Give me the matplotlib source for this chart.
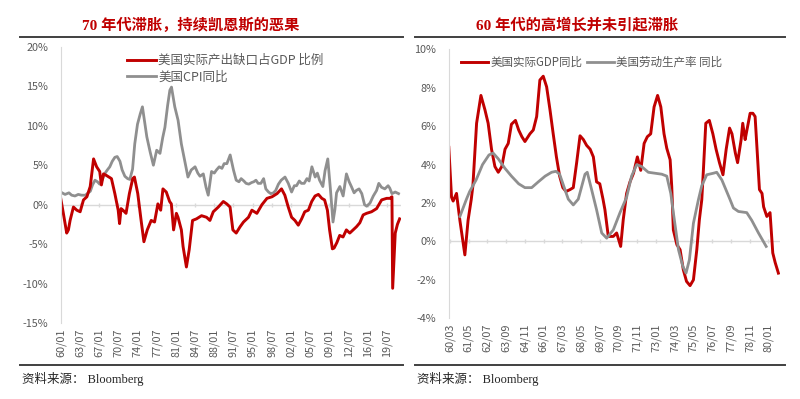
import matplotlib
matplotlib.use("Agg")
import matplotlib.pyplot as plt
from matplotlib.lines import Line2D
import numpy as np

plt.rcParams['font.family'] = ['Noto Sans CJK SC', 'DejaVu Sans']

# left chart: years after 1960, values in %
cpi_t = [0.0, 0.5, 0.8, 1.5, 2.0, 2.6, 3.2, 3.8, 4.5, 5.0,
         5.4, 5.8, 6.25, 6.7, 7.1, 7.6, 8.0, 8.5, 8.95, 9.4,
         9.87, 10.3, 10.8, 11.2, 11.7, 12.2, 12.6, 13.1, 13.5, 14.0,
         14.5, 14.9, 15.3, 15.7, 16.3, 16.9, 17.5, 18.1, 18.6, 19.0,
         19.5, 19.9, 20.2, 20.8, 21.4, 22.0, 22.6, 23.2, 23.8, 24.5,
         25.0, 25.4, 26.0, 26.5, 26.9, 27.5, 28.0, 28.4, 28.9, 29.4,
         29.8, 30.3, 30.9, 31.5, 32.0, 32.5, 32.9, 33.4, 33.8, 34.3,
         34.8, 35.2, 35.6, 36.0, 36.5, 37.0, 37.4, 37.9, 38.3, 38.8,
         39.2, 39.7, 40.2, 40.9, 41.5, 42.1, 42.6, 43.0, 43.5, 43.9,
         44.4, 44.9, 45.3, 45.8, 46.4, 46.8, 47.2, 47.8, 48.2, 48.7,
         49.2, 49.65, 50.0, 50.3, 50.9, 51.5, 52.1, 52.6, 53.0, 53.5,
         53.9, 54.4, 54.9, 55.4, 55.8, 56.4, 57.0, 57.6, 58.0, 58.5,
         59.1, 59.7, 60.0, 60.4, 61.0, 61.6]
cpi_v = [1.6, 1.4, 1.3, 1.5, 1.2, 1.1, 1.3, 1.2, 1.2, 1.5,
         1.7, 2.5, 3.1, 2.9, 2.6, 3.2, 3.9, 4.4, 4.8, 5.5,
         6.0, 6.1, 5.5, 4.4, 3.6, 3.3, 3.2, 4.5, 7.7, 10.2,
         11.5, 12.4, 10.5, 8.6, 6.7, 5.0, 6.9, 6.5, 8.5, 9.8,
         12.6, 14.5, 14.9, 12.4, 10.7, 7.7, 5.6, 3.5, 4.4, 4.8,
         4.0, 3.6, 3.9, 2.2, 1.2, 4.2, 4.0, 4.4, 4.8, 4.6,
         5.2, 5.2, 6.3, 4.4, 3.1, 2.9, 3.3, 3.0, 2.7, 2.6,
         2.8, 2.9, 3.1, 2.7, 2.7, 3.3, 2.0, 1.6, 1.4, 1.5,
         1.8, 2.6, 3.1, 3.5, 2.7, 1.6, 2.4, 2.4, 3.0, 2.7,
         2.7, 3.3, 3.0, 4.8, 3.5, 4.0, 3.1, 2.3, 4.3, 5.8,
         1.8, -2.2, -0.6, 1.5, 2.3, 1.1, 3.9, 2.9, 2.3, 1.5,
         1.8, 2.0, 1.4, 0.0, -0.2, 0.2, 1.1, 1.8, 2.7, 2.2,
         2.0, 2.4, 2.1, 1.4, 1.6, 1.4]

gap_t = [0.0, 0.48, 1.09, 1.4, 1.71, 2.32, 2.93, 3.54, 4.15, 4.77,
         5.38, 5.99, 6.55, 7.11, 7.42, 7.8, 8.34, 9.25, 9.87, 10.48,
         10.73, 11.0, 11.35, 11.91, 12.52, 13.13, 13.44, 14.05, 14.66, 15.17,
         15.78, 16.5, 17.11, 17.72, 18.23, 18.64, 19.25, 19.86, 20.17, 20.58,
         21.09, 21.39, 22.0, 22.31, 22.92, 23.43, 24.04, 24.76, 25.68, 26.59,
         27.21, 27.82, 28.74, 29.65, 30.27, 30.88, 31.39, 32.0, 32.71, 33.33,
         34.24, 34.86, 35.77, 36.69, 37.61, 38.53, 39.45, 40.26, 40.87, 41.49,
         42.1, 42.71, 43.32, 43.93, 44.5, 45.16, 45.77, 46.38, 46.99, 47.61,
         48.12, 48.63, 49.03, 49.54, 49.85, 50.36, 50.87, 51.48, 52.09, 52.71,
         53.32, 53.93, 54.54, 55.15, 55.77, 56.68, 57.6, 58.52, 59.44, 60.05,
         60.4, 60.53, 61.0, 61.4, 61.8]
gap_v = [0.8, -1.1, -3.6, -3.2, -2.0, -0.3, -0.7, -0.9, 0.6, 1.0,
         2.3, 5.8, 4.8, 4.2, 2.5, 3.9, 3.7, 3.3, 1.4, -0.7,
         -2.4, -0.5, -0.7, -1.1, 1.4, 3.3, 3.5, 1.4, -2.0, -4.7,
         -3.2, -2.0, -2.2, 0.1, -0.7, 2.0, 1.6, 0.4, 0.1, -3.2,
         -1.1, -1.6, -3.2, -5.3, -7.9, -5.7, -2.0, -1.8, -1.4, -1.6,
         -2.0, -0.9, -0.3, 0.4, 0.1, -0.3, -3.2, -3.6, -2.8, -2.2,
         -1.6, -0.7, -1.1, 0.0, 0.8, 1.0, 1.4, 2.0, 1.2, -0.3,
         -1.6, -2.0, -2.6, -1.8, -0.9, -0.7, 0.4, 1.1, 1.3, 0.8,
         0.6, -0.7, -3.2, -5.6, -5.5, -4.8, -3.9, -4.1, -3.2, -3.6,
         -3.2, -2.8, -2.3, -1.3, -1.1, -0.9, -0.5, 0.6, 0.8, 0.8,
         1.0, -10.6, -3.6, -2.5, -1.8]

# right chart: decimal years, values in %
gdp_t = [1960.1, 1960.27, 1960.37, 1960.58, 1960.79,
         1961.1, 1961.3, 1961.5, 1961.6, 1961.83,
         1962.1, 1962.35, 1962.55, 1962.76, 1962.97,
         1963.18, 1963.4, 1963.6, 1963.8, 1964.0,
         1964.25, 1964.45, 1964.65, 1964.84, 1965.15,
         1965.36, 1965.57, 1965.77, 1965.98, 1966.19,
         1966.4, 1966.6, 1966.8, 1967.0, 1967.2,
         1967.4, 1967.65, 1967.85, 1968.06, 1968.27,
         1968.48, 1968.68, 1968.9, 1969.1, 1969.3,
         1969.5, 1969.7, 1969.82, 1970.03, 1970.34,
         1970.55, 1970.8, 1970.96, 1971.17, 1971.38,
         1971.6, 1971.84, 1972.05, 1972.26, 1972.46,
         1972.67, 1972.88, 1973.1, 1973.3, 1973.5,
         1973.67, 1973.88, 1973.98, 1974.08, 1974.3,
         1974.5, 1974.7, 1974.9, 1975.12, 1975.33,
         1975.54, 1975.7, 1975.85, 1975.95, 1976.1,
         1976.32, 1976.54, 1976.74, 1976.95, 1977.17,
         1977.37, 1977.58, 1977.73, 1977.94, 1978.08,
         1978.3, 1978.4, 1978.55, 1978.65, 1978.86,
         1979.03, 1979.17, 1979.32, 1979.44, 1979.6,
         1979.7, 1979.9, 1980.1, 1980.27, 1980.42,
         1980.62]
gdp_v = [4.9, 2.3, 2.1, 2.5, 1.1,
         -0.7, 1.1, 2.2, 2.9, 6.15,
         7.6, 6.85, 6.15, 4.8, 3.9,
         3.6, 3.9, 4.8, 5.1, 6.1,
         6.3, 5.8, 5.45, 5.2, 5.6,
         5.8, 6.5, 8.4, 8.6, 8.05,
         6.85, 5.6, 4.4, 3.4, 2.8,
         2.6, 2.7, 2.8, 4.1, 5.5,
         5.3, 5.0, 4.8, 4.4, 3.1,
         3.0, 2.2, 1.65, 0.26, 0.26,
         0.44, -0.26, 1.13, 2.5, 3.1,
         3.55, 4.4, 3.7, 5.1, 5.45,
         5.6, 7.0, 7.6, 7.0, 5.6,
         4.85, 4.25, 2.85, 0.6, -0.17,
         -0.43, -1.47, -2.08, -2.3, -2.0,
         -0.43, 1.13, 2.17, 3.7, 6.15,
         6.3, 5.6, 4.8, 4.1, 3.47,
         4.8, 5.9, 5.6, 4.6, 4.1,
         5.3, 6.15, 5.3, 5.75, 6.67,
         6.67, 6.5, 4.4, 2.7, 2.5,
         1.8, 1.3, 1.5, -0.6, -1.1,
         -1.65]

prod_t = [1960.79, 1961.2, 1961.4, 1961.8, 1962.2, 1962.6, 1962.86, 1963.18, 1963.6, 1964.0,
          1964.45, 1964.84, 1965.26, 1965.67, 1966.1, 1966.5, 1966.77, 1967.0, 1967.33, 1967.54,
          1967.85, 1968.16, 1968.37, 1968.58, 1968.72, 1968.99, 1969.3, 1969.62, 1969.93, 1970.34,
          1970.76, 1971.17, 1971.48, 1971.8, 1972.1, 1972.52, 1972.94, 1973.36, 1973.67, 1973.92,
          1974.08, 1974.4, 1974.67, 1974.87, 1975.08, 1975.33, 1975.64, 1975.85, 1976.16, 1976.57,
          1976.78, 1977.1, 1977.4, 1977.6, 1977.82, 1978.13, 1978.65, 1978.96, 1979.38, 1979.86]
prod_v = [1.3, 2.2, 2.6, 3.2, 4.0, 4.5, 4.6, 4.3, 3.8, 3.4,
          3.0, 2.8, 2.8, 3.1, 3.4, 3.6, 3.65, 3.5, 2.7, 2.2,
          1.9, 2.2, 2.85, 3.5, 3.6, 2.7, 1.65, 0.44, 0.17, 0.6,
          1.5, 2.3, 3.4, 4.0, 3.9, 3.6, 3.55, 3.5, 3.4, 2.5,
          1.5, -0.43, -1.3, -1.65, -0.95, 0.95, 2.17, 2.9, 3.47, 3.55,
          3.6, 3.2, 2.6, 2.2, 1.74, 1.56, 1.5, 1.1, 0.44, -0.26]

left_title = "70 年代滞胀，持续凯恩斯的恶果"
right_title = "60 年代的高增长并未引起滞胀"
source = "资料来源： Bloomberg"

RED = '#C00000'
GREY = '#8F8F8F'
AX = '#D9D9D9'
TXT = '#595959'

fig = plt.figure(figsize=(8, 3.99), dpi=100)


def style(ax):
    for s in ['top', 'right', 'bottom']:
        ax.spines[s].set_visible(False)
    ax.spines['left'].set_color(AX)
    ax.axhline(0, color=AX, lw=1, zorder=0)
    ax.tick_params(axis='y', length=0, pad=9, labelsize=7.8, labelcolor=TXT)
    ax.tick_params(axis='x', length=0, pad=4, labelsize=7.8, labelcolor=TXT,
                   labelrotation=90)
    ax.yaxis.set_major_formatter(matplotlib.ticker.FuncFormatter(lambda v, p: '%d%%' % v))


# ---- left
axL = fig.add_axes([0.0759, 0.1905, 0.425, 0.692])
style(axL)
axL.plot(1960 + np.array(cpi_t), cpi_v, color=GREY, lw=2.0, label='美国CPI同比')
axL.plot(1960 + np.array(gap_t), gap_v, color=RED, lw=2.1, label='美国实际产出缺口占GDP 比例')
axL.set_xlim(1960, 2022)
axL.set_ylim(-15, 20)
axL.set_yticks(range(-15, 21, 5))
mL = np.arange(0, 18) * 42
axL.set_xticks(1960 + mL / 12)
axL.set_xticklabels(['%02d/%02d' % ((1960 + m // 12) % 100, m % 12 + 1) for m in mL])
axL.plot(1960 + mL / 12, np.zeros(len(mL)), '|', color=AX, ms=3, zorder=0)
h, l = axL.get_legend_handles_labels()
axL.legend(h[::-1], l[::-1], loc='upper left', bbox_to_anchor=(127 / 800, 1 - 54 / 399),
           bbox_transform=fig.transFigure, frameon=False, borderpad=0, borderaxespad=0,
           handlelength=2.3, handletextpad=0.2, labelspacing=0.3, fontsize=9,
           labelcolor=TXT)

# ---- right
axR = fig.add_axes([0.561, 0.2023, 0.414, 0.6741])
style(axR)
axR.plot(gdp_t, gdp_v, color=RED, lw=2.1, label='美国实际GDP同比')
axR.plot(prod_t, prod_v, color=GREY, lw=2.0, label='美国劳动生产率 同比')
axR.set_xlim(1960.1, 1980.72)
axR.set_ylim(-4, 10)
axR.set_yticks(range(-4, 11, 2))
mR = 2 + np.arange(0, 18) * 14
axR.set_xticks(1960 + mR / 12)
axR.set_xticklabels(['%02d/%02d' % ((1960 + m // 12) % 100, m % 12 + 1) for m in mR])
axR.plot(1960 + mR / 12, np.zeros(len(mR)), '|', color=AX, ms=3, zorder=0)
axR.legend(loc='upper left', bbox_to_anchor=(461 / 800, 1 - 56 / 399), ncol=2,
           bbox_transform=fig.transFigure, frameon=False, borderpad=0, borderaxespad=0,
           handlelength=2.3, handletextpad=0.25, columnspacing=0.4, fontsize=8.3,
           labelcolor=TXT)

# ---- titles, rules, source
for x0, x1 in [(20, 403), (415, 785)]:
    for y in (37, 364.5):
        fig.add_artist(Line2D([x0 / 800, x1 / 800], [1 - y / 399] * 2, color='#404040',
                              lw=1.4, transform=fig.transFigure))

fig.text(191 / 800, 1 - 25 / 399, left_title, ha='center', va='center', color=RED,
         fontsize=11, fontweight='bold', family=['Liberation Serif', 'Noto Sans CJK SC'])
fig.text(577 / 800, 1 - 25 / 399, right_title, ha='center', va='center', color=RED,
         fontsize=11, fontweight='bold', family=['Liberation Serif', 'Noto Sans CJK SC'])
for x in (22, 417):
    fig.text(x / 800, 1 - 379 / 399, source, ha='left', va='center', color='#262626',
             fontsize=9, family=['Liberation Serif', 'Noto Sans CJK SC'])

fig.savefig('out.png', dpi=100)
